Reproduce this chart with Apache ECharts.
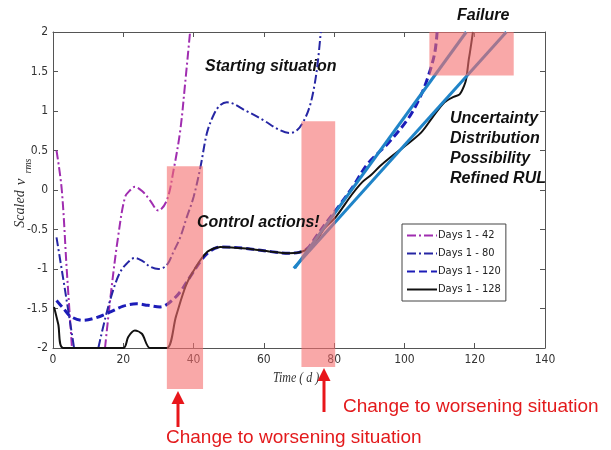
<!DOCTYPE html>
<html>
<head>
<meta charset="utf-8">
<script src="https://cdn.jsdelivr.net/npm/echarts@6/dist/echarts.min.js"></script>
<style>html,body{margin:0;padding:0;background:#fff;}#c{width:611px;height:450px;}</style>
</head>
<body>
<div id="c"></div>
<script>
// ---- data ----
const xTicks = [0, 20, 40, 60, 80, 100, 120, 140];
const yTicks = [-2, -1.5, -1, -0.5, 0, 0.5, 1, 1.5, 2];
const legendNames = ['Days 1 - 42', 'Days 1 - 80', 'Days 1 - 120', 'Days 1 - 128'];

const days42 = [[1,0.5],[2.5,0],[3.9,-1],[5.4,-2],[10,'-'],
  [14.8,-2],[16.5,-1.3],[18.5,-0.6],[20.5,-0.09],[22,0.0],[23.3,0.04],[25.5,-0.02],[27.6,-0.13],[30,-0.26],[32.4,-0.13],
  [34.3,0.25],[36.2,0.75],[37.6,1.35],[39,2.0]];

const days80 = [[1,-0.6],[3,-1.15],[4.6,-1.6],[6,-2],[9,'-'],
  [12.9,-2],[15,-1.6],[17.1,-1.27],[19,-1.05],[21,-0.93],[23.3,-0.86],[25.5,-0.9],[27.6,-0.97],[30,-1.0],[32.4,-0.95],
  [34.3,-0.78],[36.2,-0.6],[38.1,-0.34],[40,-0.09],[42,0.3],[43.8,0.72],[45.7,0.95],[47.5,1.07],[49.5,1.11],
  [55,1.0],[60,0.88],[64,0.77],[67.3,0.72],[69.5,0.76],[71.4,0.88],[73,1.05],[74.3,1.3],[75.3,1.6],[76.2,2.0]];

const days120 = [[1,-1.4],[3,-1.5],[5,-1.6],[8.6,-1.65],[12,-1.62],[16,-1.55],[20,-1.47],[23.8,-1.44],[27,-1.46],
  [30.5,-1.48],[33,-1.43],[36,-1.3],[39,-1.1],[42,-0.9],[44,-0.8],[46,-0.74],[48,-0.72],[55,-0.74],[62,-0.78],
  [67,-0.8],[70,-0.79],[72.4,-0.74],[75,-0.58],[78,-0.4],[81.4,-0.2],[85.3,0.04],[89.5,0.33],[95.3,0.59],
  [101,0.9],[104.5,1.18],[106.7,1.43],[108.6,1.73],[109.3,2.0]];

const days128 = [[0.3,-1.48],[1.5,-1.7],[2.9,-2],[20,-2],[21.4,-1.86],[23.3,-1.78],[25.3,-1.82],[27.6,-2],[32.4,-2],
  [35,-1.6],[38.1,-1.18],[41.9,-0.89],[44,-0.78],[45.7,-0.74],[47.6,-0.72],[55,-0.74],[62,-0.78],[67,-0.8],
  [70,-0.79],[72.5,-0.75],[74.3,-0.7],[77,-0.5],[80.5,-0.34],[85,-0.06],[88,0.1],[90.5,0.19],[93,0.3],[96.2,0.42],
  [100,0.55],[104.8,0.73],[108,0.92],[111.4,1.11],[114,1.18],[115.7,1.21],[117,1.32],[117.6,1.41],[118.3,1.65],
  [118.6,1.73],[119.5,2.0]];

const trendLow = [[68.5,-0.99],[129,2.0]];
const trendHigh = [[68.8,-0.99],[117.6,2.0]];

// highlight zones: [x0, x1, y0, y1]
const zones = [[32.4,42.7,-2.52,0.30],[70.7,80.3,-2.24,0.87],[107.1,131.1,1.45,2.0]];

// ---- chart ----
const narrow = "'Liberation Sans Narrow','Arial Narrow','DejaVu Sans Condensed','Liberation Sans',sans-serif";
const chart = echarts.init(document.getElementById('c'), null, {renderer:'canvas'});

function axisBase(show) {
  return {
    type: 'value',
    axisLine: {show: true, onZero: false, lineStyle: {color: '#555', width: 1}},
    axisTick: {show: true, inside: true, length: 5, lineStyle: {color: '#555'}},
    axisLabel: {show: show, color: '#333', fontSize: 12, fontFamily: narrow},
    splitLine: {show: false}
  };
}
const xMin = xTicks[0], xMax = xTicks[xTicks.length-1], xInt = xTicks[1]-xTicks[0];
const yMin = yTicks[0], yMax = yTicks[yTicks.length-1], yInt = yTicks[1]-yTicks[0];

const option = {
  animation: false,
  grid: {left: 53, right: 66, top: 32, bottom: 102, containLabel: false},
  xAxis: [
    Object.assign(axisBase(true), {position: 'bottom', min: xMin, max: xMax, interval: xInt,
      axisLabel: {show: true, color: '#333', fontSize: 12, fontFamily: narrow, margin: 6}}),
    Object.assign(axisBase(false), {position: 'top', min: xMin, max: xMax, interval: xInt})
  ],
  yAxis: [
    Object.assign(axisBase(true), {position: 'left', min: yMin, max: yMax, interval: yInt,
      axisLabel: {show: true, color: '#333', fontSize: 12, fontFamily: narrow, margin: 5}}),
    Object.assign(axisBase(false), {position: 'right', min: yMin, max: yMax, interval: yInt})
  ],
  legend: {
    orient: 'vertical', left: 402, top: 224,
    data: legendNames,
    borderColor: '#444', borderWidth: 1, padding: [6, 5, 6, 4],
    itemGap: 7, itemWidth: 30, itemHeight: 11,
    itemStyle: {opacity: 0},
    textStyle: {fontSize: 11, color: '#222', fontFamily: narrow, padding: [0,0,0,-4]}
  },
  series: [
    {name: legendNames[0], type: 'line', data: days42, smooth: 0.35, symbol: 'none', connectNulls: false, z: 3,
      lineStyle: {color: '#a02db0', width: 2, type: [9,3,2,3]}, itemStyle: {color: '#a02db0'}},
    {name: legendNames[1], type: 'line', data: days80, smooth: 0.35, symbol: 'none', connectNulls: false, z: 3,
      lineStyle: {color: '#2626a4', width: 2, type: [9,3,2,3]}, itemStyle: {color: '#2626a4'}},
    {name: legendNames[2], type: 'line', data: days120, smooth: 0.35, symbol: 'none', z: 3,
      lineStyle: {color: '#1c1cb8', width: 3, type: [8,4]}, itemStyle: {color: '#1c1cb8'}},
    {name: legendNames[3], type: 'line', data: days128, smooth: 0.3, symbol: 'none', z: 4,
      lineStyle: {color: '#111', width: 2}, itemStyle: {color: '#111'}},
    {name: 'trendLow', type: 'line', data: trendLow, symbol: 'none', z: 5,
      lineStyle: {color: '#1f84c8', width: 3}},
    {name: 'trendHigh', type: 'line', data: trendHigh, symbol: 'none', z: 5,
      lineStyle: {color: '#1f84c8', width: 3}},
    {name: 'zones', type: 'custom', data: zones, z: 6, clip: false,
      encode: {x: [0,1], y: [2,3]},
      renderItem: function (params, api) {
        const p0 = api.coord([api.value(0), api.value(3)]);
        const p1 = api.coord([api.value(1), api.value(2)]);
        return {type: 'rect', shape: {x: p0[0], y: p0[1], width: p1[0]-p0[0], height: p1[1]-p0[1]},
          style: {fill: 'rgba(245,110,110,0.6)'}};
      }}
  ],
  graphic: [
    {type:'text', x: 205, y: 67, style:{text:'Starting situation', font:'italic bold 16px "Liberation Sans", Arial, sans-serif', fill:'#111', textVerticalAlign:'middle'}},
    {type:'text', x: 457, y: 16, style:{text:'Failure', font:'italic bold 16px "Liberation Sans", Arial, sans-serif', fill:'#111', textVerticalAlign:'middle'}},
    {type:'text', x: 197, y: 223, style:{text:'Control actions!', font:'italic bold 16px "Liberation Sans", Arial, sans-serif', fill:'#111', textVerticalAlign:'middle'}, z: 10},
    {type:'text', x: 450, y: 119, style:{text:'Uncertainty', font:'italic bold 16px "Liberation Sans", Arial, sans-serif', fill:'#111', textVerticalAlign:'middle'}},
    {type:'text', x: 450, y: 139, style:{text:'Distribution', font:'italic bold 16px "Liberation Sans", Arial, sans-serif', fill:'#111', textVerticalAlign:'middle'}},
    {type:'text', x: 450, y: 159, style:{text:'Possibility', font:'italic bold 16px "Liberation Sans", Arial, sans-serif', fill:'#111', textVerticalAlign:'middle'}},
    {type:'text', x: 450, y: 179, style:{text:'Refined RUL', font:'italic bold 16px "Liberation Sans", Arial, sans-serif', fill:'#111', textVerticalAlign:'middle'}},
    {type:'text', x: 343, y: 407, style:{text:'Change to worsening situation', font:'19px "Liberation Sans", Arial, sans-serif', fill:'#e31a1c', textVerticalAlign:'middle'}},
    {type:'text', x: 166, y: 438, style:{text:'Change to worsening situation', font:'19px "Liberation Sans", Arial, sans-serif', fill:'#e31a1c', textVerticalAlign:'middle'}},
    {type:'text', x: 273, y: 378, scaleX: 0.8, style:{text:'Time ( d )', font:'italic 15px "Liberation Serif", "Times New Roman", serif', fill:'#333', textVerticalAlign:'middle'}},
    {type:'text', x: 20, y: 209, rotation: Math.PI/2, style:{text:'Scaled', font:'italic 14px "Liberation Serif", "Times New Roman", serif', fill:'#333', textAlign:'center', textVerticalAlign:'middle'}},
    {type:'text', x: 21, y: 182, rotation: Math.PI/2, style:{text:'v', font:'italic 15px "Liberation Serif", "Times New Roman", serif', fill:'#333', textAlign:'center', textVerticalAlign:'middle'}},
    {type:'text', x: 28, y: 166, rotation: Math.PI/2, style:{text:'rms', font:'italic 10px "Liberation Serif", "Times New Roman", serif', fill:'#333', textAlign:'center', textVerticalAlign:'middle'}},
    // arrows
    {type:'line', shape:{x1:178, y1:427, x2:178, y2:401}, style:{stroke:'#e8161b', lineWidth:3}, z: 20},
    {type:'polygon', shape:{points:[[178,391],[171.5,404],[184.5,404]]}, style:{fill:'#e8161b'}, z: 20},
    {type:'line', shape:{x1:324, y1:412, x2:324, y2:378}, style:{stroke:'#e8161b', lineWidth:3}, z: 20},
    {type:'polygon', shape:{points:[[324,368],[317.5,381],[330.5,381]]}, style:{fill:'#e8161b'}, z: 20}
  ]
};
chart.setOption(option);
</script>
</body>
</html>
